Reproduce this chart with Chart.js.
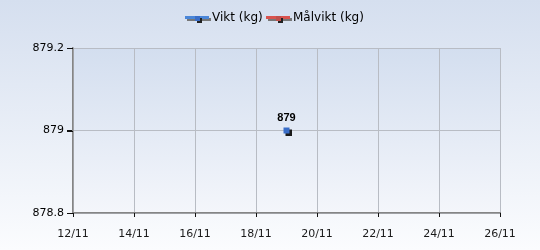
<!DOCTYPE html>
<html>
<head>
<meta charset="utf-8">
<script src="https://cdn.jsdelivr.net/npm/chart.js@4.4.0/dist/chart.umd.min.js"></script>
<style>
  html, body { margin: 0; padding: 0; background: #fff; }
  #wrap { width: 540px; height: 250px; position: relative; }
</style>
</head>
<body>
<div id="wrap"><canvas id="c"></canvas></div>
<script>
// ── Data ───────────────────────────────────────────────
const DAYS        = [19];           // day of November
const VIKT        = [879];
const MALVIKT     = [];             // no target values recorded
const X_TICKS     = [12, 14, 16, 18, 20, 22, 24, 26];
const Y_TICKS     = [878.8, 879, 879.2];

const FONT = "'DejaVu Sans', sans-serif";

// marker: coloured square with a dark drop shadow
function markerIcon(color) {
  const c = document.createElement('canvas');
  c.width = 10; c.height = 10;
  const g = c.getContext('2d');
  g.fillStyle = '#1a1a1a';
  g.fillRect(4, 4, 6, 6);
  g.fillStyle = color;
  g.fillRect(2, 2, 6, 6);
  return c;
}

// legend icon: line + marker, with shadow
function legendIcon(color, mark) {
  const c = document.createElement('canvas');
  c.width = 27; c.height = 11;
  const g = c.getContext('2d');
  g.fillStyle = '#777';
  g.fillRect(2, 5, 24, 3);
  g.fillStyle = color;
  g.fillRect(0, 3, 24, 3);
  g.fillStyle = '#222';
  g.fillRect(12, 5, 5, 5);
  g.fillStyle = mark;
  g.fillRect(10, 3, 5, 5);
  return c;
}

const bgPlugin = {
  id: 'bg',
  beforeDraw(chart) {
    const { ctx, width, height, chartArea: a } = chart;
    ctx.save();
    let g = ctx.createLinearGradient(0, 0, 0, height);
    g.addColorStop(0, '#d5dfef');
    g.addColorStop(1, '#fbfcfe');
    ctx.fillStyle = g;
    ctx.fillRect(0, 0, width, height);
    g = ctx.createLinearGradient(0, a.top, 0, a.bottom);
    g.addColorStop(0, '#d3deef');
    g.addColorStop(1, '#f4f6fb');
    ctx.fillStyle = g;
    ctx.fillRect(a.left, a.top, a.right - a.left, a.bottom - a.top);
    ctx.restore();
  }
};

// short dark tick marks outside the axes
const tickMarks = {
  id: 'tickMarks',
  afterDraw(chart) {
    const { ctx, chartArea: a, scales: { x, y } } = chart;
    ctx.save();
    ctx.strokeStyle = '#111';
    ctx.lineWidth = 1;
    ctx.beginPath();
    x.ticks.forEach(t => {
      const px = Math.round(x.getPixelForValue(t.value)) + 0.5;
      ctx.moveTo(px, a.bottom); ctx.lineTo(px, a.bottom + 4);
    });
    y.ticks.forEach(t => {
      const py = Math.round(y.getPixelForValue(t.value)) + 0.5;
      ctx.moveTo(a.left - 6, py); ctx.lineTo(a.left, py);
    });
    ctx.stroke();
    ctx.restore();
  }
};

const legendPlugin = {
  id: 'customLegend',
  afterDraw(chart) {
    const { ctx } = chart;
    ctx.save();
    ctx.font = '12px ' + FONT;
    ctx.textBaseline = 'middle';
    ctx.fillStyle = '#000';
    const items = [
      { label: 'Vikt (kg)', color: '#4a86d8', mark: '#3a6ec8', x: 185 },
      { label: 'Målvikt (kg)', color: '#d9534f', mark: '#c0504d', x: 266 },
    ];
    items.forEach(it => {
      ctx.drawImage(legendIcon(it.color, it.mark), it.x, 13);
      ctx.fillText(it.label, it.x + 27, 18);
    });
    ctx.restore();
  }
};

const labelPlugin = {
  id: 'pointLabels',
  afterDatasetsDraw(chart) {
    const { ctx } = chart;
    const meta = chart.getDatasetMeta(0);
    ctx.save();
    ctx.font = "bold 11px 'Liberation Sans', sans-serif";
    ctx.fillStyle = '#000';
    ctx.textAlign = 'center';
    ctx.textBaseline = 'bottom';
    meta.data.forEach((pt, i) => {
      ctx.fillText(String(VIKT[i]), pt.x, pt.y - 7);
    });
    ctx.restore();
  }
};

new Chart(document.getElementById('c'), {
  type: 'line',
  data: {
    datasets: [
      {
        label: 'Vikt (kg)',
        data: DAYS.map((d, i) => ({ x: d, y: VIKT[i] })),
        borderColor: '#4a86d8',
        borderWidth: 2,
        pointStyle: markerIcon('#3a6ec8'),
        pointRadius: 4,
      },
      {
        label: 'Målvikt (kg)',
        data: MALVIKT,
        borderColor: '#d9534f',
        borderWidth: 2,
      },
    ],
  },
  options: {
    responsive: true,
    maintainAspectRatio: false,
    animation: false,
    layout: { padding: { top: 48, right: 40, left: 0, bottom: 0 } },
    plugins: {
      legend: { display: false },
      tooltip: { enabled: false },
    },
    scales: {
      x: {
        type: 'linear',
        min: X_TICKS[0],
        max: X_TICKS[X_TICKS.length - 1],
        afterBuildTicks: s => { s.ticks = X_TICKS.map(v => ({ value: v })); },
        afterFit: s => { s.height = 37; },
        border: { color: '#858585', width: 1.5 },
        grid: { color: '#b8bcc4', tickLength: 4, tickColor: '#222' },
        ticks: {
          color: '#1a1a1a',
          font: { family: FONT, size: 11 },
          padding: 11,
          maxRotation: 0,
          callback: v => v + '/11',
        },
      },
      y: {
        min: Y_TICKS[0],
        max: Y_TICKS[Y_TICKS.length - 1],
        afterBuildTicks: s => { s.ticks = Y_TICKS.map(v => ({ value: v })); },
        afterFit: s => { s.width = 73; },
        border: { color: '#858585', width: 1.5 },
        grid: { color: '#b8bcc4', tickLength: 6, tickColor: '#111' },
        ticks: {
          color: '#000',
          font: { family: FONT, size: 11 },
          padding: 3,
          callback: v => String(+v.toFixed(1)),
        },
      },
    },
  },
  plugins: [bgPlugin, tickMarks, legendPlugin, labelPlugin],
});
</script>
</body>
</html>
